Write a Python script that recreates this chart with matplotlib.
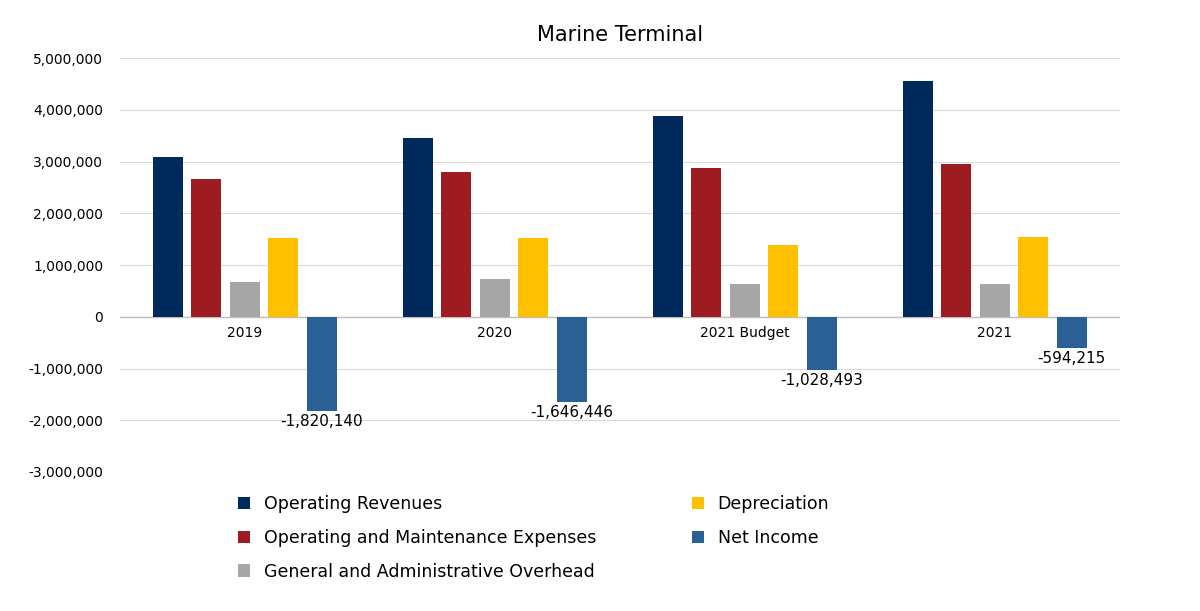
import matplotlib.pyplot as plt
import numpy as np

categories = ["2019", "2020", "2021 Budget", "2021"]
series_names = ["Operating Revenues", "Operating and Maintenance Expenses",
                "General and Administrative Overhead", "Depreciation", "Net Income"]
revenues = [3090000, 3460000, 3880000, 4560000]
om_expenses = [2670000, 2800000, 2880000, 2960000]
ga_overhead = [680000, 730000, 640000, 640000]
depreciation = [1530000, 1530000, 1390000, 1550000]
net_income = [-1820140, -1646446, -1028493, -594215]
colors = ["#002A5C", "#9E1B22", "#A6A6A6", "#FFC000", "#2A6096"]

fig = plt.figure(figsize=(12, 6.11), dpi=100)
ax = fig.add_axes([0.1, 0.2275, 0.833, 0.6775])

x = np.arange(len(categories))
step = 0.154
width = 0.12
all_series = [revenues, om_expenses, ga_overhead, depreciation, net_income]
handles = []
for i, (vals, col, name) in enumerate(zip(all_series, colors, series_names)):
    h = ax.bar(x + (i - 2) * step, vals, width, color=col, label=name, zorder=3)
    handles.append(h)

for xi, v in zip(x, net_income):
    ax.text(xi + 2 * step, v - 60000, f"{v:,}", ha="center", va="top", fontsize=11)

for xi, c in zip(x, categories):
    ax.text(xi, -180000, c, ha="center", va="top", fontsize=10)

ax.set_xlim(-0.5, 3.5)
ax.set_ylim(-3000000, 5000000)
ax.set_yticks(np.arange(-3000000, 5000001, 1000000))
ax.set_yticklabels([f"{int(t):,}" for t in ax.get_yticks()], fontsize=10)
ax.set_xticks([])
ax.grid(axis="y", color="#D9D9D9", zorder=0)
ax.axhline(0, color="#BFBFBF", lw=1, zorder=2)
for s in ax.spines.values():
    s.set_visible(False)
ax.tick_params(axis="y", length=0, pad=12)
ax.set_title("Marine Terminal", fontsize=15, pad=12)

fig.legend(handles=handles, loc="upper left", bbox_to_anchor=(0.185, 0.215), ncol=2,
           frameon=False, fontsize=12.5, handlelength=0.7, handleheight=0.7,
           columnspacing=5.5, labelspacing=0.9)

fig.savefig("out.png")
